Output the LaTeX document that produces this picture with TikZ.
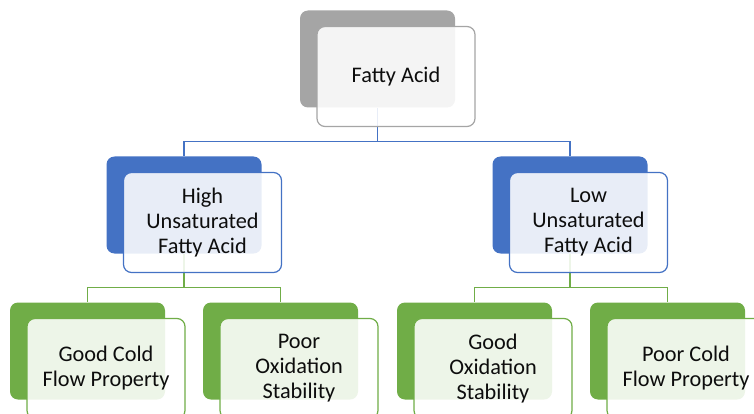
\documentclass[tikz,border=0pt]{standalone}
\usepackage{fontspec}
\setmainfont{Carlito}
\usetikzlibrary{positioning,backgrounds}
\definecolor{boxgray}{HTML}{A5A5A5}
\definecolor{boxblue}{HTML}{4472C4}
\definecolor{boxgreen}{HTML}{70AD47}

\begin{document}
\begin{tikzpicture}[x=1pt,y=-1pt]

\tikzstyle{back} = [rectangle, rounded corners=8pt, minimum width=155pt, minimum height=97pt, inner sep=0pt]

\tikzstyle{front} = [rectangle, rounded corners=8pt, minimum width=158pt, minimum height=100pt, inner sep=0pt, line width=1.2pt, fill=white, fill opacity=0.88, text opacity=1, align=center, text=black!95, font=\fontsize{22.3}{25}\selectfont]

\tikzstyle{link} = [line width=1.3pt]

    \useasboundingbox (0,0) rectangle (754,414);

    \node [back, fill=boxgray] (A) at (377.5,59) {};
    \path (A) ++(18.5,17.5) node [front, draw=boxgray] (A1) {Fatty Acid};

    \node [back, fill=boxblue] (B) at (184,205) {};
    \path (B) ++(18.5,17.5) node [front, draw=boxblue] (B1) {High\\Unsaturated\\Fatty Acid};
    \node [back, fill=boxblue] (C) at (570,205) {};
    \path (C) ++(18.5,17.5) node [front, draw=boxblue] (C1) {Low\\Unsaturated\\Fatty Acid};

    \node [back, fill=boxgreen] (D) at (87.5,351) {};
    \path (D) ++(18.5,17.5) node [front, draw=boxgreen] (D1) {Good Cold\\Flow Property};
    \node [back, fill=boxgreen] (E) at (280.5,351) {};
    \path (E) ++(18.5,17.5) node [front, draw=boxgreen] (E1) {Poor\\Oxidation\\Stability};
    \node [back, fill=boxgreen] (F) at (474.5,351) {};
    \path (F) ++(18.5,17.5) node [front, draw=boxgreen] (F1) {Good\\Oxidation\\Stability};
    \node [back, fill=boxgreen] (G) at (667.5,351) {};
    \path (G) ++(18.5,17.5) node [front, draw=boxgreen] (G1) {Poor Cold\\Flow Property};

    \coordinate (AB) at (377.5,141.5);
    \coordinate (BD) at (184,287.5);
    \coordinate (CF) at (570,287.5);

    \begin{scope}[on background layer]
    \draw [link, boxblue] (A.south) -- (AB) -| (B.north);
    \draw [link, boxblue] (AB) -| (C.north);
    \draw [link, boxgreen] (B.south) -- (BD) -| (D.north);
    \draw [link, boxgreen] (BD) -| (E.north);
    \draw [link, boxgreen] (C.south) -- (CF) -| (F.north);
    \draw [link, boxgreen] (CF) -| (G.north);
    \end{scope}

\end{tikzpicture}
\end{document}
